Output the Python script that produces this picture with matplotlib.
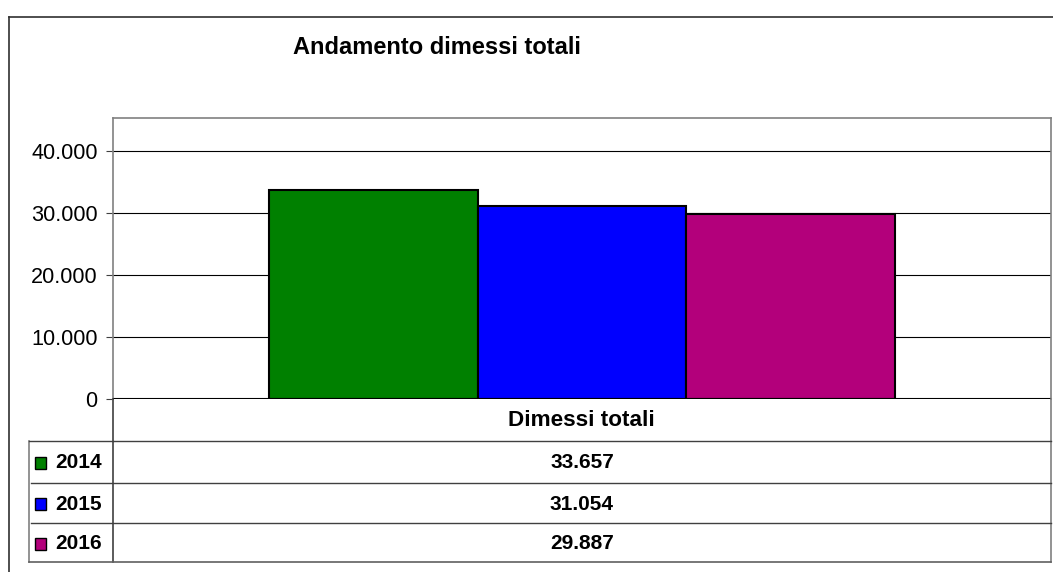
import matplotlib.pyplot as plt
from matplotlib.lines import Line2D
from matplotlib.patches import Rectangle

plt.rcParams['font.family'] = ['Liberation Sans', 'DejaVu Sans']

# dati
anni = ['2014', '2015', '2016']
dimessi = [33657, 31054, 29887]
colori = ['#008000', '#0000FF', '#B3007B']
categoria = 'Dimessi totali'
y_ticks = [0, 10000, 20000, 30000, 40000]
y_labels = ['0', '10.000', '20.000', '30.000', '40.000']

W, H = 1053, 572
fig = plt.figure(figsize=(W / 100, H / 100), dpi=100)

def fx(px):
    return px / W

def fy(py):
    return 1 - py / H

# area del grafico
left, top, right, bottom = 113, 118, 1051, 399
ax = fig.add_axes([fx(left), fy(bottom), fx(right - left), fy(top) - fy(bottom)])
ax.set_xlim(-0.5, 0.5)
ax.set_ylim(0, 45300)
ax.set_yticks(y_ticks)
ax.set_yticklabels(y_labels, fontsize=15.6)
ax.set_xticks([])
ax.tick_params(axis='y', length=5, width=0.8, color='#404040', pad=6)
for y in y_ticks[1:]:
    ax.axhline(y, color='black', lw=0.8, zorder=0)
ax.axhline(0, color='black', lw=1.5, zorder=3)
for s in ['top', 'right', 'left']:
    ax.spines[s].set_color('#808080')
    ax.spines[s].set_linewidth(1.2)
ax.spines['bottom'].set_visible(False)

w = 0.2228
for i, (v, c) in enumerate(zip(dimessi, colori)):
    ax.bar((i - 1) * w, v, width=w, color=c, edgecolor='black', linewidth=1.5, zorder=2)

# titolo
fig.text(fx(437), fy(47), 'Andamento dimessi totali', ha='center', va='center',
         fontsize=17, fontweight='bold')

# cornice esterna
fig.add_artist(Line2D([fx(9), fx(9)], [fy(17), 0], color='#303030', lw=1.2))
fig.add_artist(Line2D([fx(9), 1], [fy(17), fy(17)], color='#303030', lw=1.2))

# tabella dati
row_y = [399, 441, 483, 523, 562]
tab_left = 29
lc = '#404040'
fig.add_artist(Line2D([fx(left), fx(left)], [fy(bottom), fy(row_y[-1])], color=lc, lw=1.2))
fig.add_artist(Line2D([fx(right), fx(right)], [fy(bottom), fy(row_y[-1])], color='#808080', lw=1.2))
fig.add_artist(Line2D([fx(tab_left), fx(tab_left)], [fy(row_y[1]), fy(row_y[-1])], color='#808080', lw=1.2))
fig.add_artist(Line2D([fx(left), fx(right)], [fy(row_y[1]), fy(row_y[1])], color=lc, lw=1.0))
fig.add_artist(Line2D([fx(tab_left), fx(left)], [fy(row_y[1]), fy(row_y[1])], color=lc, lw=1.0))
for ry in row_y[2:-1]:
    fig.add_artist(Line2D([fx(tab_left + 2), fx(right)], [fy(ry), fy(ry)], color=lc, lw=1.0))
fig.add_artist(Line2D([fx(tab_left), fx(right)], [fy(row_y[-1]), fy(row_y[-1])], color='#606060', lw=1.2))

fig.text(fx(581), fy((row_y[0] + row_y[1]) / 2 + 1), categoria,
         ha='center', va='center', fontsize=16.2, fontweight='bold')

for i, (a, v, c) in enumerate(zip(anni, dimessi, colori)):
    cy = (row_y[i + 1] + row_y[i + 2]) / 2 + 1
    fig.add_artist(Rectangle((fx(35), fy(cy + 6)), fx(11), fy(cy - 6) - fy(cy + 6),
                             facecolor=c, edgecolor='black', lw=1.0))
    fig.text(fx(55), fy(cy), a, ha='left', va='center', fontsize=15, fontweight='bold')
    fig.text(fx((left + right) / 2), fy(cy), f'{v:,}'.replace(',', '.'),
             ha='center', va='center', fontsize=15, fontweight='bold')

fig.savefig('out.png', dpi=100)
